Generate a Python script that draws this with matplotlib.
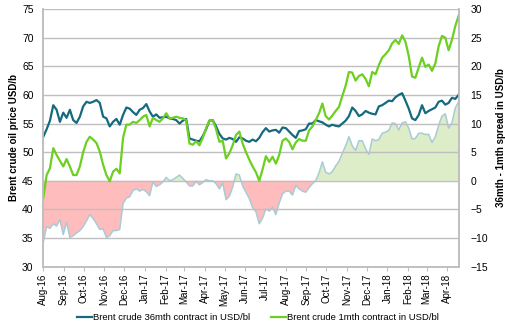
import numpy as np
import pandas as pd
import matplotlib
matplotlib.use('Agg')
import matplotlib.pyplot as plt
import matplotlib.dates as mdates

plt.rcParams['font.family'] = ['Liberation Sans', 'DejaVu Sans']
plt.rcParams['font.size'] = 7.5

# Brent forward curve, sampled every 5 days from 1 Aug 2016
fechas = pd.date_range('2016-08-01', periods=126, freq='5D')

brent_36m = [
    52.7, 54.0, 55.5, 58.2, 57.4, 55.3, 56.9, 56.0, 57.4, 55.6,
    55.1, 56.2, 58.0, 58.8, 58.6, 58.8, 59.1, 58.6, 56.2, 55.9,
    54.5, 55.3, 55.8, 54.8, 56.5, 57.8, 57.6, 57.0, 56.5, 57.4,
    57.7, 58.4, 57.1, 56.2, 56.6, 56.0, 56.1, 56.2, 55.9, 55.8,
    55.6, 55.0, 55.5, 55.8, 52.4, 52.2, 52.0, 51.9, 52.8, 54.0,
    55.5, 55.6, 54.5, 53.2, 52.4, 52.2, 52.5, 52.3, 51.8, 52.6,
    52.4, 52.0, 51.8, 52.2, 51.9, 52.5, 53.5, 54.2, 53.6, 53.8,
    53.9, 53.4, 54.3, 54.2, 53.6, 53.0, 52.5, 53.7, 53.8, 54.0,
    55.0, 55.0, 55.6, 55.4, 55.2, 54.8, 54.5, 54.8, 54.6, 54.5,
    55.0, 55.5, 56.3, 57.8, 57.2, 56.3, 56.6, 57.2, 56.9, 56.7,
    56.6, 58.0, 58.2, 58.6, 59.0, 58.9, 59.6, 60.0, 60.3, 59.0,
    57.6, 55.9, 55.6, 56.5, 58.2, 56.8, 57.2, 57.5, 57.8, 58.8,
    59.0, 58.3, 58.6, 59.5, 59.3, 60.0,
]

brent_1m = [
    42.0, 46.0, 47.2, 50.7, 49.5, 48.5, 47.5, 48.8, 47.5, 46.0,
    46.0, 47.5, 50.0, 51.8, 52.7, 52.2, 51.6, 50.1, 47.8, 46.0,
    44.9, 46.6, 47.1, 46.3, 52.5, 54.8, 54.8, 55.3, 55.1, 55.6,
    56.2, 56.5, 54.5, 56.0, 55.6, 55.3, 55.9, 56.8, 55.9, 56.0,
    56.2, 56.0, 55.9, 55.6, 51.5, 51.3, 51.9, 51.2, 52.5, 54.2,
    55.5, 55.6, 54.0, 51.8, 52.0, 48.9, 49.8, 51.2, 53.0, 53.6,
    51.5, 50.0, 48.7, 47.5, 46.5, 45.0, 47.0, 49.3, 48.3, 49.2,
    48.0, 49.5, 52.0, 52.4, 51.8, 50.5, 51.7, 52.3, 52.0, 52.0,
    53.8, 54.5, 55.6, 56.8, 58.5, 56.3, 55.7, 56.4, 57.2, 57.9,
    59.8, 61.6, 64.0, 63.9, 62.5, 63.3, 63.6, 62.8, 61.5, 64.0,
    63.6, 65.2, 66.5, 67.1, 67.8, 69.0, 69.6, 68.9, 70.4, 69.3,
    66.8, 63.2, 63.0, 64.8, 66.5, 64.9, 65.3, 64.2, 65.5, 68.5,
    70.3, 70.0, 67.8, 69.6, 72.0, 73.8,
]

df = pd.DataFrame({'b36': brent_36m, 'b1': brent_1m}, index=fechas)
df['spread'] = df['b1'] - df['b36']

color_36m = '#156a7e'
color_1m = '#6ccf22'
color_spread = '#a9cbd6'
eje_gris = '#bfbfbf'

fig = plt.figure(figsize=(5.06, 3.29), dpi=100)
ax = fig.add_axes([0.0856, 0.1894, 0.822, 0.7832])
ax2 = ax.twinx()

# spread on the right axis, filled above/below zero
ax2.fill_between(df.index, 0, df['spread'], where=df['spread'] >= 0,
                 interpolate=True, color='#dcedc8', lw=0)
ax2.fill_between(df.index, 0, df['spread'], where=df['spread'] <= 0,
                 interpolate=True, color='#ffbcbc', lw=0)
ax2.plot(df.index, df['spread'], color=color_spread, lw=1.1)
ax2.set_ylim(-15, 30)
ax2.set_yticks(range(-15, 31, 5))
ax2.set_ylabel('36mth - 1mth spread in USD/b', fontweight='bold',
               fontsize=7, labelpad=6)

# price lines on the left axis, drawn above the spread
ax.set_zorder(ax2.get_zorder() + 1)
ax.patch.set_visible(False)
ax.plot(df.index, df['b36'], color=color_36m, lw=1.6,
        label='Brent crude 36mth contract in USD/bl')
ax.plot(df.index, df['b1'], color=color_1m, lw=1.6,
        label='Brent crude 1mth contract in USD/bl')
ax.set_ylim(30, 75)
ax.set_yticks(range(30, 76, 5))
ax.set_ylabel('Brent crude oil price USD/b', fontweight='bold',
              fontsize=7, labelpad=2)
ax.grid(axis='y', color=eje_gris, lw=1)
ax.set_axisbelow(True)

ax.set_xlim(pd.Timestamp('2016-08-01'), pd.Timestamp('2018-04-19'))
ax.xaxis.set_major_locator(mdates.MonthLocator())
ax.xaxis.set_major_formatter(mdates.DateFormatter('%b-%y'))
plt.setp(ax.get_xticklabels(), rotation=90, fontsize=7)

for a in (ax, ax2):
    for s in a.spines.values():
        s.set_color(eje_gris)
        s.set_linewidth(1.2)
    a.spines['top'].set_visible(False)
ax.tick_params(axis='y', length=0, pad=7)
ax2.tick_params(axis='y', length=0, pad=8)
ax.tick_params(axis='x', length=3, color=eje_gris, pad=2)

fig.legend(loc='lower center', bbox_to_anchor=(0.51, -0.005), ncol=2,
           frameon=False, handlelength=1.6, handletextpad=0.1,
           columnspacing=2.2, fontsize=6.8)

fig.savefig('out.png', dpi=100)
